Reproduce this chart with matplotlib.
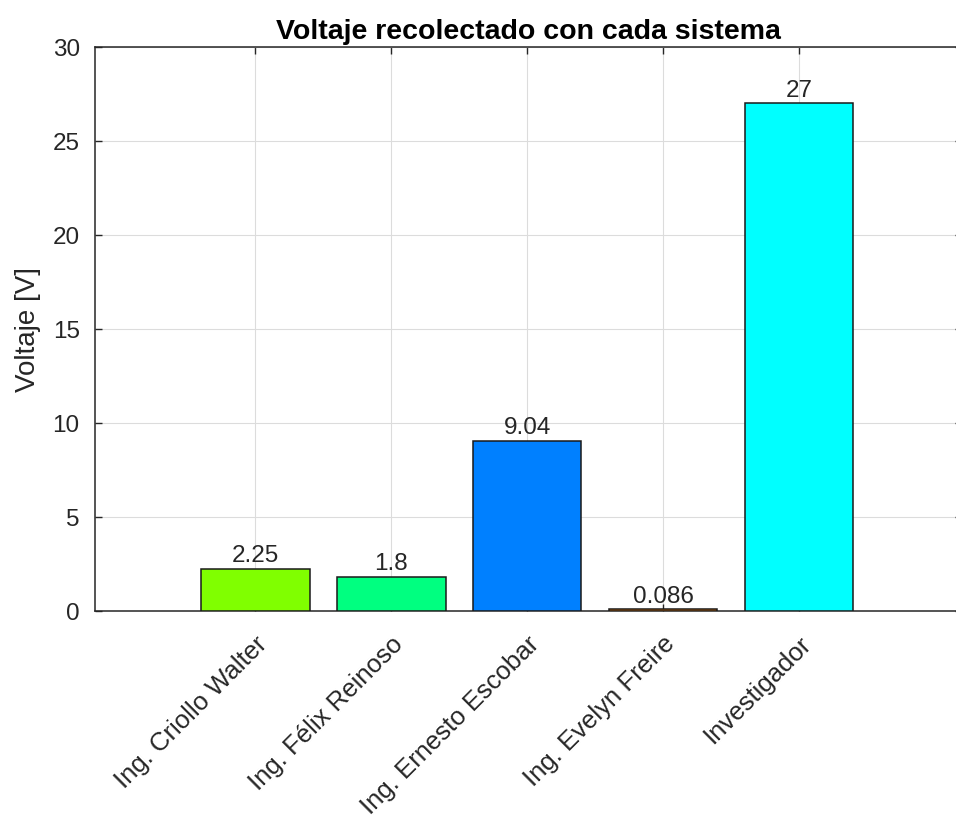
import matplotlib

matplotlib.use("Agg")
import matplotlib.pyplot as plt

plt.rcParams["font.family"] = ["Liberation Sans", "DejaVu Sans"]

CATEGORIES = [
    "Ing. Criollo Walter",
    "Ing. Félix Reinoso",
    "Ing. Ernesto Escobar",
    "Ing. Evelyn Freire",
    "Investigador",
]
VOLTAGES = [2.25, 1.8, 9.04, 0.086, 27]
VALUE_LABELS = ["2.25", "1.8", "9.04", "0.086", "27"]
BAR_COLORS = ["#80ff00", "#00ff80", "#0080ff", "#ff8000", "#00ffff"]
Y_TICKS = [0, 5, 10, 15, 20, 25, 30]

DARK = "#262626"
TICK_FS = 17.5

fig = plt.figure(figsize=(9.56, 8.19), dpi=100)
ax = fig.add_axes([95 / 956, 1 - 611 / 819, (962 - 95) / 956, (611 - 47) / 819])

positions = list(range(1, len(CATEGORIES) + 1))
ax.bar(positions, VOLTAGES, width=0.8, color=BAR_COLORS,
       edgecolor="#1a1a1a", linewidth=1.1, zorder=3)

for x, v, lab in zip(positions, VOLTAGES, VALUE_LABELS):
    ax.text(x, v + 0.1, lab, ha="center", va="bottom",
            fontsize=TICK_FS, color=DARK, zorder=4)

ax.set_xlim(-0.18, 6.2)
ax.set_ylim(0, 30)
ax.set_yticks(Y_TICKS)
ax.set_xticks(positions)
ax.set_xticklabels(CATEGORIES, rotation=45, ha="right", va="top",
                   rotation_mode="anchor", fontsize=18.5, color=DARK)
ax.tick_params(axis="y", labelsize=TICK_FS, labelcolor=DARK, pad=11)
ax.tick_params(direction="in", length=5, width=1, colors=DARK,
               top=True, right=True)
ax.tick_params(axis="x", labelcolor=DARK, pad=15)

ax.grid(True, color="#dcdcdc", linewidth=0.8, zorder=0)
ax.set_axisbelow(True)
for side in ("top", "bottom", "left", "right"):
    ax.spines[side].set_color(DARK)
    ax.spines[side].set_linewidth(1.1)

ax.set_ylabel("Voltaje [V]", fontsize=20, color=DARK, labelpad=8)
ax.set_title("Voltaje recolectado con cada sistema", fontsize=20.5,
             fontweight="bold", color="black", pad=6)

fig.savefig("out.png", dpi=100)
